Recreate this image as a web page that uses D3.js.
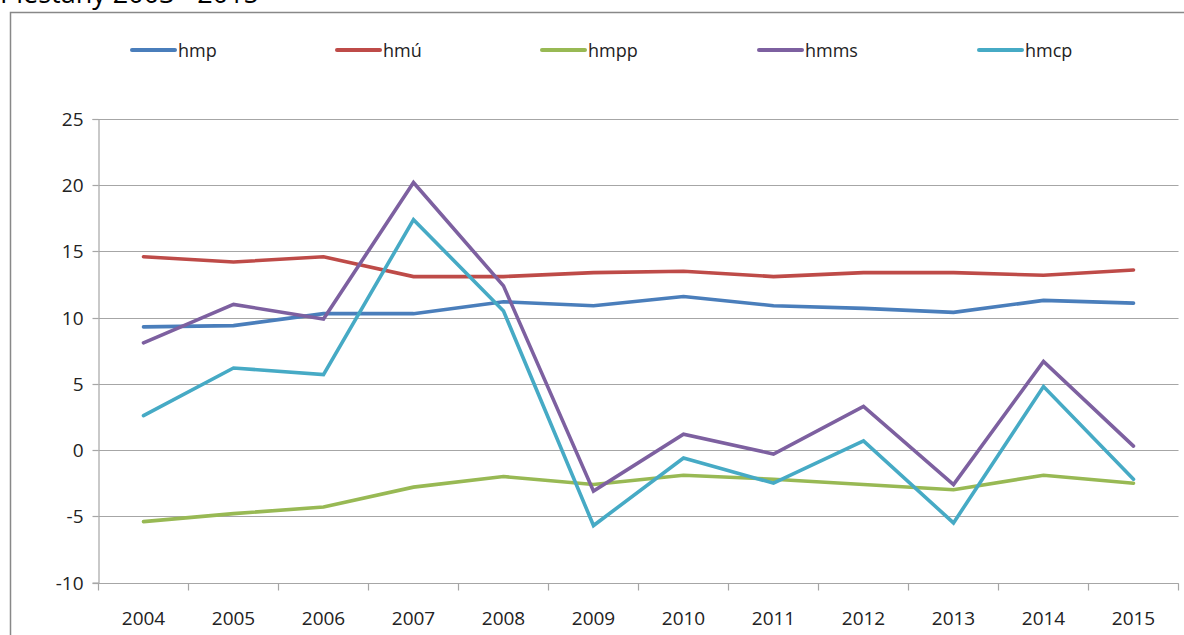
<!DOCTYPE html>
<html>
<head>
<meta charset="utf-8">
<script src="https://cdn.jsdelivr.net/npm/d3@7"></script>
<style>
  html, body { margin: 0; padding: 0; background: #fff; }
  svg { display: block; font-family: "Open Sans", "Noto Sans", sans-serif; }
</style>
</head>
<body>
<svg id="chart" width="1184" height="635"></svg>
<script>
// Years on the category axis
const years = ["2004", "2005", "2006", "2007", "2008", "2009", "2010", "2011", "2012", "2013", "2014", "2015"];

// Crude rates per 1000 inhabitants
const hmp  = [9.3, 9.4, 10.3, 10.3, 11.2, 10.9, 11.6, 10.9, 10.7, 10.4, 11.3, 11.1];
const hmu  = [14.6, 14.2, 14.6, 13.1, 13.1, 13.4, 13.5, 13.1, 13.4, 13.4, 13.2, 13.6];
const hmpp = [-5.4, -4.8, -4.3, -2.8, -2.0, -2.6, -1.9, -2.2, -2.6, -3.0, -1.9, -2.5];
const hmms = [8.1, 11.0, 9.9, 20.2, 12.4, -3.1, 1.2, -0.3, 3.3, -2.6, 6.7, 0.3];
const hmcp = [2.6, 6.2, 5.7, 17.4, 10.5, -5.7, -0.6, -2.5, 0.7, -5.5, 4.8, -2.2];

const seriesNames = ["hmp", "hmú", "hmpp", "hmms", "hmcp"];
const seriesValues = [hmp, hmu, hmpp, hmms, hmcp];
const seriesColors = ["#4a7ebb", "#be4b48", "#98b954", "#7d60a0", "#46aac5"];

const yTicks = [-10, -5, 0, 5, 10, 15, 20, 25];

const svg = d3.select("#chart");

// Title (runs off the top edge)
svg.append("text")
  .attr("x", 0).attr("y", 3)
  .attr("font-size", 27)
  .attr("fill", "#000")
  .text("Piešťany 2003 - 2015");

// Outer chart frame
svg.append("rect")
  .attr("x", 10.5).attr("y", 12.5)
  .attr("width", 1200).attr("height", 700)
  .attr("fill", "#fff")
  .attr("stroke", "#888")
  .attr("stroke-width", 1.5);

const plot = { left: 98.5, right: 1178.5, top: 119, bottom: 582.5 };

const x = d3.scaleBand().domain(years).range([plot.left, plot.right]);
const y = d3.scaleLinear().domain([-10, 25]).range([plot.bottom, plot.top]);

// Horizontal gridlines
svg.append("g")
  .selectAll("line")
  .data(yTicks)
  .join("line")
  .attr("x1", plot.left).attr("x2", plot.right)
  .attr("y1", d => Math.round(y(d)) + 0.5)
  .attr("y2", d => Math.round(y(d)) + 0.5)
  .attr("stroke", "#a6a6a6")
  .attr("stroke-width", 1.2);

// Y axis (plain hyphen for negatives)
const yAxis = svg.append("g")
  .attr("transform", `translate(${plot.left},0)`)
  .call(d3.axisLeft(y).tickValues(yTicks).tickSize(6).tickPadding(9).tickFormat(d => String(d)));
yAxis.select(".domain").attr("stroke", "#a6a6a6").attr("stroke-width", 1.2);
yAxis.selectAll(".tick line").attr("stroke", "#a6a6a6").attr("stroke-width", 1.2);
yAxis.selectAll(".tick").attr("transform", d => `translate(0,${Math.round(y(d)) + 0.5})`);
yAxis.selectAll(".tick text")
  .attr("font-size", 19).attr("font-family", "Open Sans, sans-serif")
  .attr("fill", "#222");

// X axis with ticks on category boundaries
const xAxis = svg.append("g")
  .attr("transform", `translate(0,${Math.round(y(-10)) + 0.5})`);
xAxis.append("line")
  .attr("x1", plot.left).attr("x2", plot.right)
  .attr("stroke", "#a6a6a6").attr("stroke-width", 1.2);
const bounds = years.map(d => x(d)).concat([x(years[years.length - 1]) + x.bandwidth()]);
xAxis.selectAll("line.tk")
  .data(bounds)
  .join("line")
  .attr("class", "tk")
  .attr("x1", d => d).attr("x2", d => d)
  .attr("y1", 0).attr("y2", 7)
  .attr("stroke", "#a6a6a6").attr("stroke-width", 1.2);
xAxis.selectAll("text")
  .data(years)
  .join("text")
  .attr("x", d => x(d) + x.bandwidth() / 2)
  .attr("y", 41)
  .attr("text-anchor", "middle")
  .attr("font-size", 19)
  .attr("fill", "#222")
  .text(d => d);

// Series lines
const line = d3.line()
  .x((d, i) => x(years[i]) + x.bandwidth() / 2)
  .y(d => y(d));

svg.append("g")
  .selectAll("path")
  .data(seriesValues)
  .join("path")
  .attr("d", d => line(d))
  .attr("fill", "none")
  .attr("stroke", (d, i) => seriesColors[i])
  .attr("stroke-width", 3.6)
  .attr("stroke-linecap", "round")
  .attr("stroke-linejoin", "miter");

// Legend
const legendX = [132, 337, 542, 759, 979];
const legend = svg.append("g")
  .selectAll("g")
  .data(seriesNames)
  .join("g")
  .attr("transform", (d, i) => `translate(${legendX[i]},50)`);
legend.append("line")
  .attr("x1", 0).attr("x2", 43)
  .attr("stroke", (d, i) => seriesColors[i])
  .attr("stroke-width", 4)
  .attr("stroke-linecap", "round");
legend.append("text")
  .attr("x", 46).attr("y", 6.5)
  .attr("font-size", 18)
  .attr("fill", "#222")
  .text(d => d);
</script>
</body>
</html>
